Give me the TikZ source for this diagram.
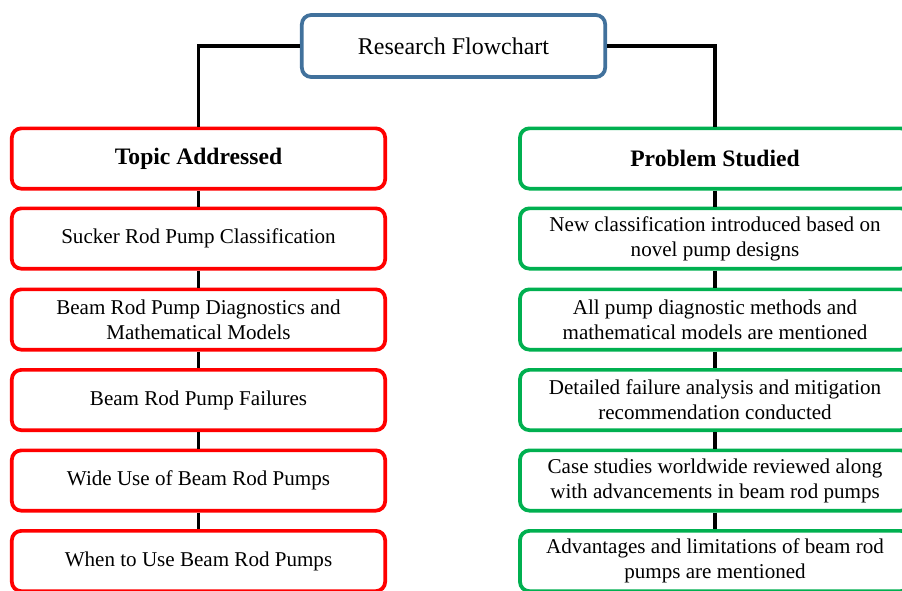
\documentclass[tikz,border=0pt]{standalone}
\usepackage{fontspec}
\setmainfont{Liberation Serif}
\usepackage{tikz}

\definecolor{topred}{HTML}{FF0000}
\definecolor{probgreen}{HTML}{00B050}
\definecolor{rootblue}{HTML}{41719C}

\tikzset{
	box/.style={draw, line width=2.8pt, rounded corners=7pt, fill=white,
		align=center, inner sep=1pt, font=\fontsize{15.8}{18.8}\selectfont},
	rootbox/.style={box, draw=rootblue, minimum width=227.5pt, minimum height=46.5pt,
		font=\fontsize{18}{21}\selectfont},
	topicbox/.style={box, draw=topred, minimum width=280pt, minimum height=45.2pt},
	probbox/.style={box, draw=probgreen, minimum width=292.5pt, minimum height=45.2pt},
	head/.style={font=\fontsize{17.7}{21}\selectfont\bfseries},
	link/.style={draw=black, line width=2.4pt}
}

\begin{document}
\begin{tikzpicture}[x=0.75pt, y=-0.75pt]
	\useasboundingbox (0,0) rectangle (902,590);
	\clip (0,0) rectangle (902,590);

	% top
	\node[rootbox] (root) at (453.5,46) {Research Flowchart};

	% left column
	\node[topicbox, head] (topic) at (198.5,158.5) {Topic Addressed};
	\node[topicbox] (t1) at (198.5,238.5) {Sucker Rod Pump Classification};
	\node[topicbox] (t2) at (198.5,319.5) {Beam Rod Pump Diagnostics and\\Mathematical Models};
	\node[topicbox] (t3) at (198.5,400) {Beam Rod Pump Failures};
	\node[topicbox] (t4) at (198.5,480.5) {Wide Use of Beam Rod Pumps};
	\node[topicbox] (t5) at (198.5,561) {When to Use Beam Rod Pumps};

	% right column
	\node[probbox, head] (prob) at (715,158.5) {Problem Studied};
	\node[probbox] (p1) at (715,238.5) {New classification introduced based on\\novel pump designs};
	\node[probbox] (p2) at (715,319.5) {All pump diagnostic methods and\\mathematical models are mentioned};
	\node[probbox] (p3) at (715,400) {Detailed failure analysis and mitigation\\recommendation conducted};
	\node[probbox] (p4) at (715,480.5) {Case studies worldwide reviewed along\\with advancements in beam rod pumps};
	\node[probbox] (p5) at (715,561) {Advantages and limitations of beam rod\\pumps are mentioned};

	% connectors
	\draw[link] (root.west) -| (topic.north);
	\draw[link] (root.east) -| (prob.north);
	\draw[link] (topic.south) -- (t1.north);
	\draw[link] (t1.south) -- (t2.north);
	\draw[link] (t2.south) -- (t3.north);
	\draw[link] (t3.south) -- (t4.north);
	\draw[link] (t4.south) -- (t5.north);
	\draw[link] (prob.south) -- (p1.north);
	\draw[link] (p1.south) -- (p2.north);
	\draw[link] (p2.south) -- (p3.north);
	\draw[link] (p3.south) -- (p4.north);
	\draw[link] (p4.south) -- (p5.north);
\end{tikzpicture}
\end{document}
